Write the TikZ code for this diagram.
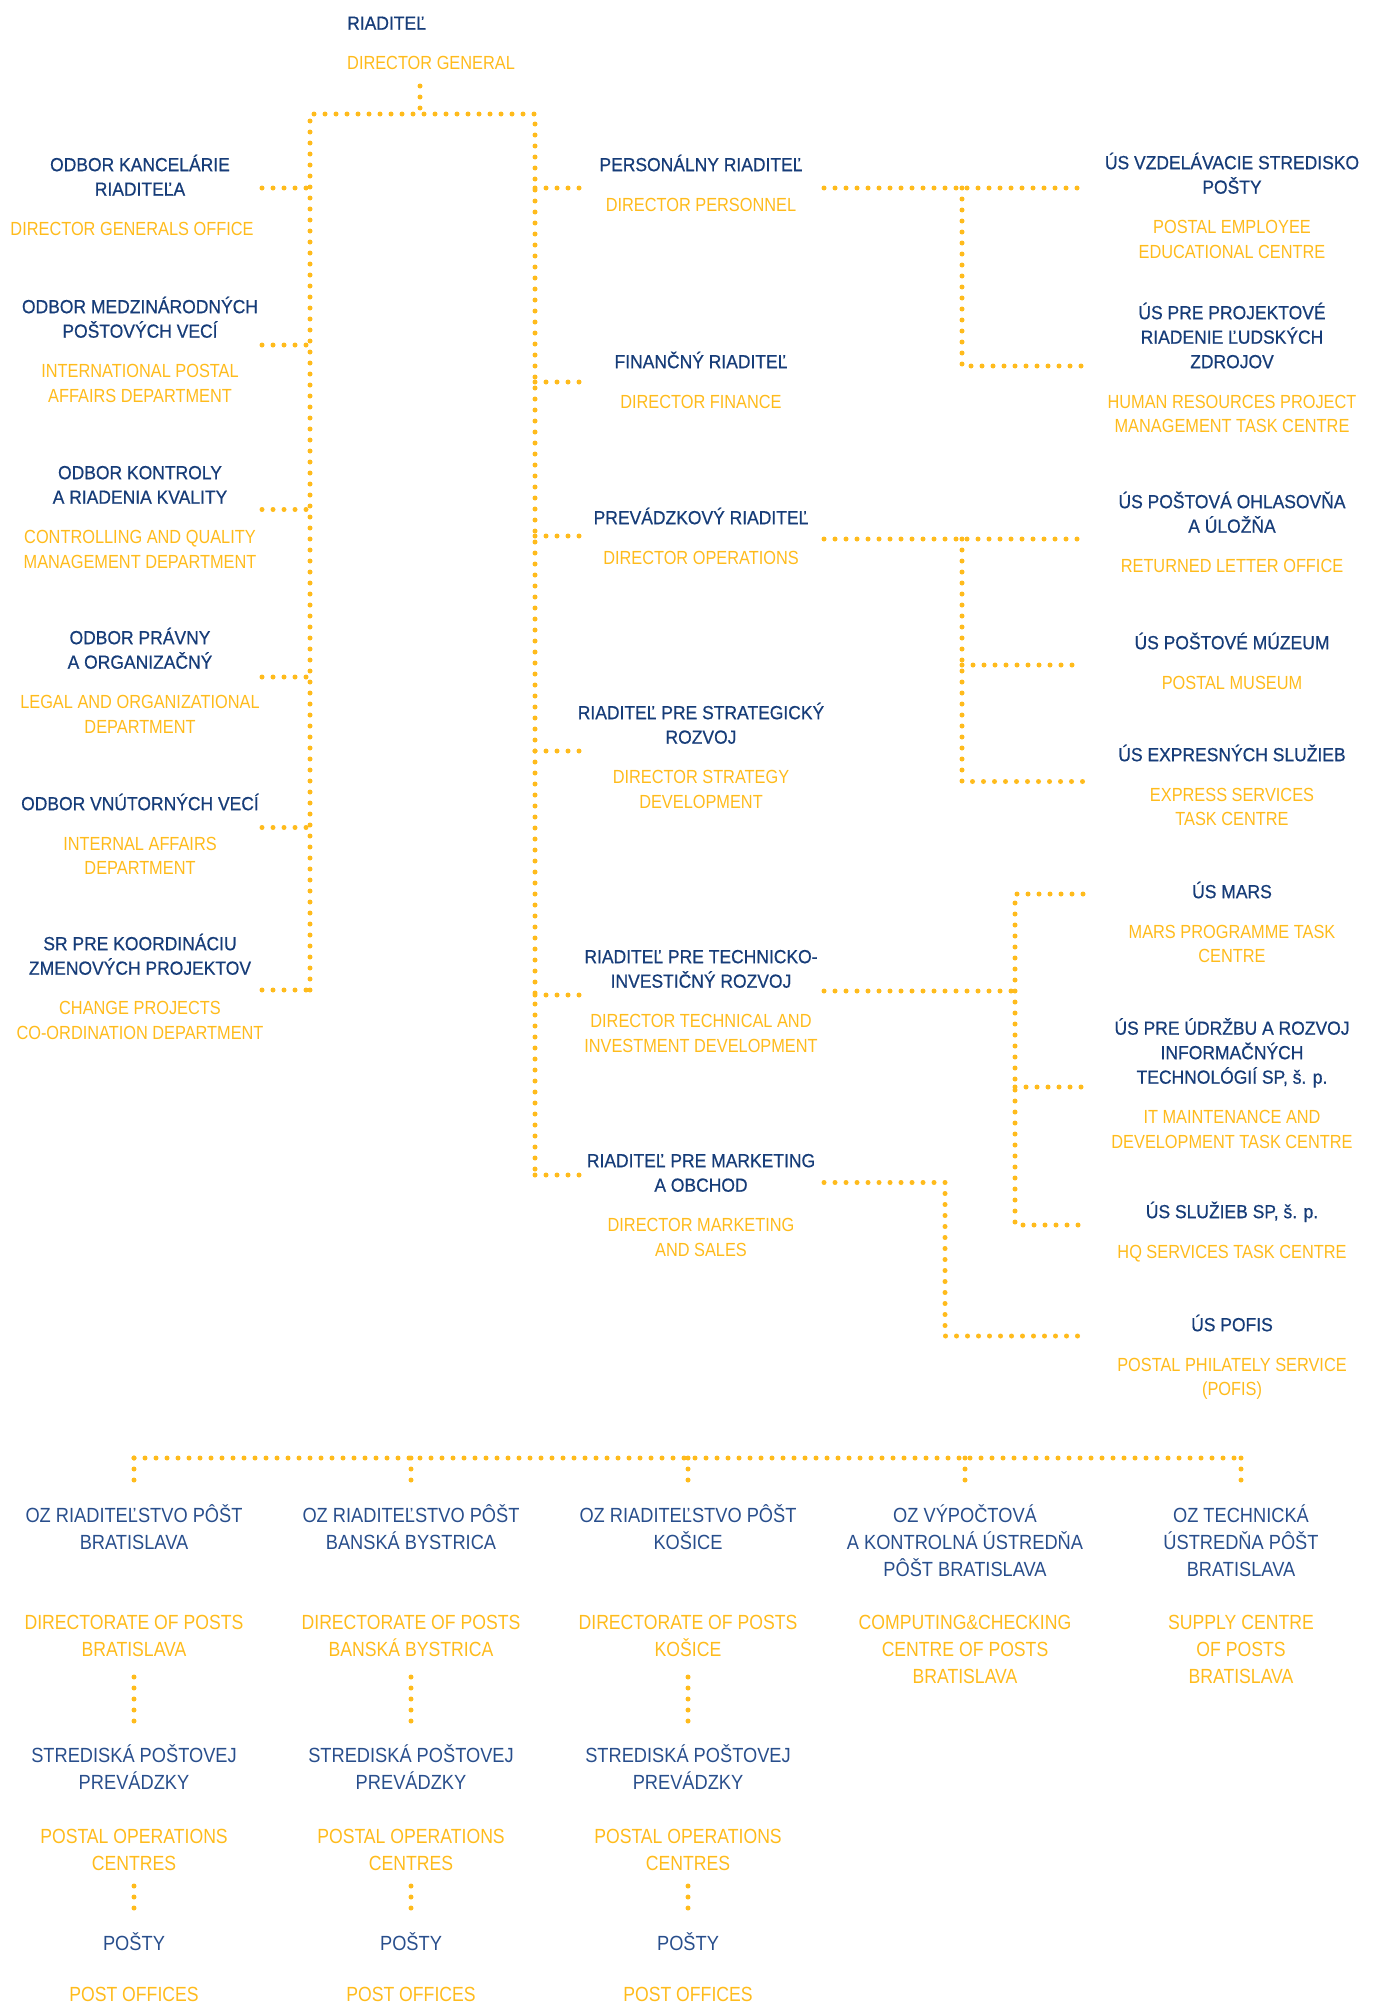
\documentclass[tikz,border=0pt]{standalone}
\usepackage{fontspec}
\usetikzlibrary{positioning}
\setmainfont{Liberation Sans}
\newfontfamily\hdfont[FakeStretch=0.92,FakeBold=0.6]{Liberation Sans}
\newfontfamily\ozfont[FakeStretch=0.89]{Liberation Sans}
\newfontfamily\enfont[FakeStretch=0.86]{Liberation Sans}
\definecolor{postblue}{RGB}{22,60,120}
\definecolor{postlite}{RGB}{40,78,140}
\definecolor{postyel}{RGB}{255,187,28}
\newcommand{\fs}{\rule{0pt}{21pt}}
\newcommand{\ls}{\rule[-6pt]{0pt}{6pt}}

\begin{document}
\begin{tikzpicture}[x=1pt,y=-1pt]
  \tikzset{dotline/.style={draw=postyel,line width=5pt,line cap=round,dash pattern=on 0pt off 11pt},
    txt/.style={align=center,inner sep=0pt},
    hd/.style={txt,anchor=north,yshift=21pt,font=\fontsize{19}{24.5}\selectfont\hdfont,text=postblue},
    en/.style={txt,font=\fontsize{19}{24.5}\selectfont\enfont,text=postyel},
    oz/.style={txt,anchor=north,yshift=21pt,font=\fontsize{20.5}{27}\selectfont\ozfont,text=postlite},
    ozen/.style={oz,font=\fontsize{20.5}{27}\selectfont\enfont,text=postyel}}
  \useasboundingbox (0,0) rectangle (1374,2002);

  \node[hd,anchor=north west,align=left] (dg) at (347,29.5) {\fs RIADITEĽ\ls};
  \node[en,anchor=north west,align=left] (dgen) at ([yshift=-12.5pt]dg.south west) {\fs DIRECTOR GENERAL};

  \node[hd] (kan) at (140,171) {\fs ODBOR KANCELÁRIE\\RIADITEĽA\ls};
  \node[en,below=12.5pt of kan,xshift=-8pt] (kanen) {\fs DIRECTOR GENERALS OFFICE};
  \node[hd] (med) at (140,313) {\fs ODBOR MEDZINÁRODNÝCH\\POŠTOVÝCH VECÍ\ls};
  \node[en,below=12.5pt of med] (meden) {\fs INTERNATIONAL POSTAL\\AFFAIRS DEPARTMENT};
  \node[hd] (kon) at (140,479) {\fs ODBOR KONTROLY\\A RIADENIA KVALITY\ls};
  \node[en,below=12.5pt of kon] (konen) {\fs CONTROLLING AND QUALITY\\MANAGEMENT DEPARTMENT};
  \node[hd] (pra) at (140,644) {\fs ODBOR PRÁVNY\\A ORGANIZAČNÝ\ls};
  \node[en,below=12.5pt of pra] (praen) {\fs LEGAL AND ORGANIZATIONAL\\DEPARTMENT};
  \node[hd] (vnu) at (140,810) {\fs ODBOR VNÚTORNÝCH VECÍ\ls};
  \node[en,below=12.5pt of vnu] (vnuen) {\fs INTERNAL AFFAIRS\\DEPARTMENT};
  \node[hd] (koo) at (140,950) {\fs SR PRE KOORDINÁCIU\\ZMENOVÝCH PROJEKTOV\ls};
  \node[en,below=12.5pt of koo] (kooen) {\fs CHANGE PROJECTS\\CO-ORDINATION DEPARTMENT};

  \node[hd] (per) at (701,171) {\fs PERSONÁLNY RIADITEĽ\ls};
  \node[en,below=12.5pt of per] (peren) {\fs DIRECTOR PERSONNEL};
  \node[hd] (fin) at (701,368) {\fs FINANČNÝ RIADITEĽ\ls};
  \node[en,below=12.5pt of fin] (finen) {\fs DIRECTOR FINANCE};
  \node[hd] (prv) at (701,524) {\fs PREVÁDZKOVÝ RIADITEĽ\ls};
  \node[en,below=12.5pt of prv] (prven) {\fs DIRECTOR OPERATIONS};
  \node[hd] (str) at (701,719) {\fs RIADITEĽ PRE STRATEGICKÝ\\ROZVOJ\ls};
  \node[en,below=12.5pt of str] (stren) {\fs DIRECTOR STRATEGY\\DEVELOPMENT};
  \node[hd] (tec) at (701,963) {\fs RIADITEĽ PRE TECHNICKO-\\INVESTIČNÝ ROZVOJ\ls};
  \node[en,below=12.5pt of tec] (tecen) {\fs DIRECTOR TECHNICAL AND\\INVESTMENT DEVELOPMENT};
  \node[hd] (mar) at (701,1167) {\fs RIADITEĽ PRE MARKETING\\A OBCHOD\ls};
  \node[en,below=12.5pt of mar] (maren) {\fs DIRECTOR MARKETING\\AND SALES};

  \node[hd] (vzd) at (1232,169) {\fs ÚS VZDELÁVACIE STREDISKO\\POŠTY\ls};
  \node[en,below=12.5pt of vzd] (vzden) {\fs POSTAL EMPLOYEE\\EDUCATIONAL CENTRE};
  \node[hd] (prj) at (1232,319) {\fs ÚS PRE PROJEKTOVÉ\\RIADENIE ĽUDSKÝCH\\ZDROJOV\ls};
  \node[en,below=12.5pt of prj] (prjen) {\fs HUMAN RESOURCES PROJECT\\MANAGEMENT TASK CENTRE};
  \node[hd] (ohl) at (1232,508) {\fs ÚS POŠTOVÁ OHLASOVŇA\\A ÚLOŽŇA\ls};
  \node[en,below=12.5pt of ohl] (ohlen) {\fs RETURNED LETTER OFFICE};
  \node[hd] (muz) at (1232,649) {\fs ÚS POŠTOVÉ MÚZEUM\ls};
  \node[en,below=12.5pt of muz] (muzen) {\fs POSTAL MUSEUM};
  \node[hd] (exp) at (1232,761) {\fs ÚS EXPRESNÝCH SLUŽIEB\ls};
  \node[en,below=12.5pt of exp] (expen) {\fs EXPRESS SERVICES\\TASK CENTRE};
  \node[hd] (mrs) at (1232,898) {\fs ÚS MARS\ls};
  \node[en,below=12.5pt of mrs] (mrsen) {\fs MARS PROGRAMME TASK\\CENTRE};
  \node[hd] (udr) at (1232,1034.5) {\fs ÚS PRE ÚDRŽBU A ROZVOJ\\INFORMAČNÝCH\\TECHNOLÓGIÍ SP, š. p.\ls};
  \node[en,below=12.5pt of udr] (udren) {\fs IT MAINTENANCE AND\\DEVELOPMENT TASK CENTRE};
  \node[hd] (slu) at (1232,1218) {\fs ÚS SLUŽIEB SP, š. p.\ls};
  \node[en,below=12.5pt of slu] (sluen) {\fs HQ SERVICES TASK CENTRE};
  \node[hd] (pof) at (1232,1331) {\fs ÚS POFIS\ls};
  \node[en,below=12.5pt of pof] (pofen) {\fs POSTAL PHILATELY SERVICE\\(POFIS)};

  \draw[dotline] (420,86) -- (420,114);
  \draw[dotline] (310,990) -- (310,114) -- (535,114) -- (535,1175);
  \foreach \y in {188,345,509.5,677,827.5,990}
    \draw[dotline] (262,\y) -- (310,\y);
  \foreach \y in {188,382,536,751,995,1175}
    \draw[dotline] (535,\y) -- (585,\y);

  \draw[dotline] (824,188) -- (1083,188);
  \draw[dotline] (962,188) -- (962,366) -- (1083,366);
  \draw[dotline] (824,539) -- (1083,539);
  \draw[dotline] (962,539) -- (962,781.5) -- (1083,781.5);
  \draw[dotline] (962,665) -- (1083,665);
  \draw[dotline] (824,991) -- (1015,991);
  \draw[dotline] (1083,894) -- (1015,894) -- (1015,1225) -- (1083,1225);
  \draw[dotline] (1015,1087) -- (1083,1087);
  \draw[dotline] (824,1182.5) -- (945,1182.5) -- (945,1336) -- (1083,1336);

  \node[oz] (ba) at (134,1522) {\fs OZ RIADITEĽSTVO PÔŠT\\BRATISLAVA};
  \node[oz] (bb) at (411,1522) {\fs OZ RIADITEĽSTVO PÔŠT\\BANSKÁ BYSTRICA};
  \node[oz] (ke) at (688,1522) {\fs OZ RIADITEĽSTVO PÔŠT\\KOŠICE};
  \node[oz] (vyp) at (965,1522) {\fs OZ VÝPOČTOVÁ\\A KONTROLNÁ ÚSTREDŇA\\PÔŠT BRATISLAVA};
  \node[oz] (tch) at (1241,1522) {\fs OZ TECHNICKÁ\\ÚSTREDŇA PÔŠT\\BRATISLAVA};
  \node[ozen] (baen) at (134,1629.5) {\fs DIRECTORATE OF POSTS\\BRATISLAVA};
  \node[ozen] (bben) at (411,1629.5) {\fs DIRECTORATE OF POSTS\\BANSKÁ BYSTRICA};
  \node[ozen] (keen) at (688,1629.5) {\fs DIRECTORATE OF POSTS\\KOŠICE};
  \node[ozen] (vypen) at (965,1629.5) {\fs COMPUTING\&CHECKING\\CENTRE OF POSTS\\BRATISLAVA};
  \node[ozen] (tchen) at (1241,1629.5) {\fs SUPPLY CENTRE\\OF POSTS\\BRATISLAVA};
  \foreach \n/\x in {1/134,2/411,3/688} {
    \node[oz] (sp\n) at (\x,1762) {\fs STREDISKÁ POŠTOVEJ\\PREVÁDZKY};
    \node[ozen] (po\n) at (\x,1843) {\fs POSTAL OPERATIONS\\CENTRES};
    \node[oz] (ps\n) at (\x,1950) {\fs POŠTY};
    \node[ozen] (pf\n) at (\x,2001) {\fs POST OFFICES};
  }

  \draw[dotline] (134,1458) -- (1241,1458);
  \foreach \x in {134,411,688,965,1241}
    \draw[dotline] (\x,1458) -- (\x,1491);
  \foreach \x in {134,411,688} {
    \draw[dotline] (\x,1677) -- (\x,1730);
    \draw[dotline] (\x,1886) -- (\x,1916);
  }
\end{tikzpicture}
\end{document}
